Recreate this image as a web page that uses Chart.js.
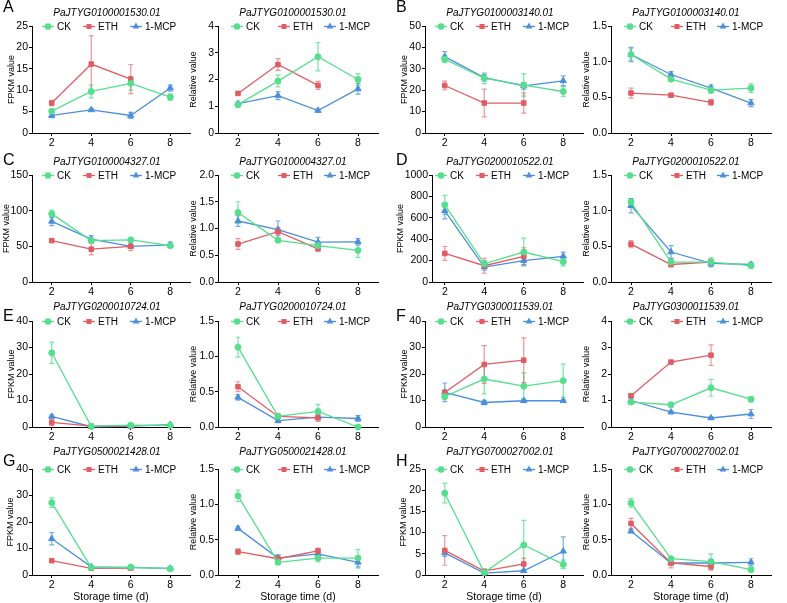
<!DOCTYPE html>
<html>
<head>
<meta charset="utf-8">
<script src="https://cdn.jsdelivr.net/npm/chart.js@4.4.0/dist/chart.umd.min.js"></script>
<style>
  body { margin: 0; background: #fff; width: 787px; height: 603px; position: relative; overflow: hidden; font-family: "Liberation Sans", Arial, sans-serif; }
  canvas { position: absolute; }
  .tag { position: absolute; font-size: 16px; line-height: 1; color: #000; }
</style>
</head>
<body>
<script>
const days = [2, 4, 6, 8];
const xTicks = ['2', '4', '6', '8'];
const seriesNames = ['CK', 'ETH', '1-MCP'];
const panelLetters = ['A', 'B', 'C', 'D', 'E', 'F', 'G', 'H'];
const genes = ['PaJTYG0100001530.01', 'PaJTYG0100003140.01', 'PaJTYG0100004327.01', 'PaJTYG0200010522.01',
               'PaJTYG0200010724.01', 'PaJTYG0300011539.01', 'PaJTYG0500021428.01', 'PaJTYG0700027002.01'];

// rows: CK, ETH, 1-MCP ; columns: day 2, 4, 6, 8
const fpkmA = [[5.1, 9.7, 11.6, 8.4], [7.0, 16.1, 12.6, null], [4.1, 5.4, 4.1, 10.5]];
const fpkmSdA = [[0.4, 1.5, 1.6, 0.7], [0.6, 6.6, 3.4, null], [0.5, 0.3, 0.7, 0.7]];
const relA = [[1.06, 1.94, 2.85, 2.0], [1.48, 2.56, 1.78, null], [1.1, 1.4, 0.84, 1.65]];
const relSdA = [[0.08, 0.22, 0.53, 0.22], [0.06, 0.22, 0.15, null], [0.05, 0.15, 0.05, 0.2]];

const fpkmB = [[34.5, 25.6, 22.4, 19.4], [22.2, 14.0, 14.0, null], [35.7, 25.9, 22.0, 24.4]];
const fpkmSdB = [[1.5, 2.5, 5.2, 2.3], [2.0, 6.5, 4.7, null], [2.3, 1.5, 1.5, 2.3]];
const relB = [[1.10, 0.755, 0.60, 0.63], [0.56, 0.53, 0.43, null], [1.10, 0.82, 0.63, 0.42]];
const relSdB = [[0.08, 0.03, 0.04, 0.06], [0.07, 0.02, 0.04, null], [0.1, 0.04, 0.04, 0.05]];

const fpkmC = [[95.5, 58, 59, 51], [58, 46, 50, null], [85, 60, 50, 52]];
const fpkmSdC = [[5, 3, 2, 2], [2, 8, 6, null], [6, 5, 3, 4]];
const relC = [[1.30, 0.78, 0.68, 0.59], [0.71, 0.94, 0.62, null], [1.14, 0.98, 0.745, 0.75]];
const relSdC = [[0.2, 0.04, 0.05, 0.13], [0.1, 0.07, 0.04, null], [0.1, 0.16, 0.09, 0.06]];

const fpkmD = [[720, 170, 280, 190], [267, 152, 240, null], [665, 140, 200, 240]];
const fpkmSdD = [[90, 30, 130, 40], [65, 70, 80, null], [75, 30, 40, 40]];
const relD = [[1.12, 0.28, 0.28, 0.23], [0.53, 0.245, 0.28, null], [1.07, 0.42, 0.26, 0.245]];
const relSdD = [[0.05, 0.05, 0.06, 0.04], [0.05, 0.03, 0.04, null], [0.1, 0.09, 0.05, 0.03]];

const fpkmE = [[28, 0.25, 0.7, 0.6], [1.75, 0.3, 0.4, null], [4.0, 0.1, 0.3, 0.9]];
const fpkmSdE = [[4, 0.1, 0.2, 0.2], [1.2, 0.1, 0.1, null], [0.6, 0.05, 0.1, 0.2]];
const relE = [[1.13, 0.15, 0.22, 0.0], [0.57, 0.15, 0.13, null], [0.42, 0.09, 0.14, 0.12]];
const relSdE = [[0.14, 0.03, 0.1, 0.01], [0.07, 0.03, 0.05, null], [0.04, 0.03, 0.03, 0.04]];

const fpkmF = [[11.5, 18.1, 15.4, 17.5], [13.0, 23.6, 25.2, null], [13.1, 9.25, 9.9, 9.9]];
const fpkmSdF = [[1, 5.6, 5, 6.2], [1, 7.1, 8.4, null], [3.5, 0.8, 0.6, 0.4]];
const relF = [[0.94, 0.84, 1.48, 1.05], [1.18, 2.45, 2.71, null], [1.0, 0.56, 0.34, 0.49]];
const relSdF = [[0.08, 0.08, 0.32, 0.1], [0.07, 0.04, 0.39, null], [0.05, 0.05, 0.04, 0.17]];

const fpkmG = [[27.3, 2.8, 3.0, 2.4], [5.4, 2.5, 2.6, null], [13.7, 3.1, 2.8, 2.5]];
const fpkmSdG = [[1.8, 0.3, 0.3, 0.3], [0.6, 0.3, 0.4, null], [2.3, 0.3, 0.3, 0.3]];
const relG = [[1.12, 0.18, 0.24, 0.24], [0.33, 0.23, 0.34, null], [0.66, 0.24, 0.30, 0.18]];
const relSdG = [[0.08, 0.03, 0.05, 0.12], [0.04, 0.05, 0.04, null], [0.03, 0.04, 0.03, 0.08]];

const fpkmH = [[19.3, 0.6, 7.1, 2.5], [5.8, 0.9, 2.6, null], [5.2, 0.45, 1.0, 5.6]];
const fpkmSdH = [[2.3, 0.3, 5.8, 1.0], [3.5, 0.3, 1.4, null], [0.8, 0.2, 0.3, 3.4]];
const relH = [[1.02, 0.23, 0.19, 0.075], [0.73, 0.17, 0.12, null], [0.62, 0.17, 0.17, 0.18]];
const relSdH = [[0.06, 0.03, 0.11, 0.03], [0.07, 0.07, 0.05, null], [0.02, 0.02, 0.05, 0.05]];

// y tick labels
const fpkmTicksA = ['0', '5', '10', '15', '20', '25'];
const relTicksA = ['0', '1', '2', '3', '4'];
const fpkmTicksB = ['0', '10', '20', '30', '40', '50'];
const relTicksB = ['0.0', '0.5', '1.0', '1.5'];
const fpkmTicksC = ['0', '50', '100', '150'];
const relTicksC = ['0.0', '0.5', '1.0', '1.5', '2.0'];
const fpkmTicksD = ['0', '200', '400', '600', '800', '1000'];
const relTicksD = ['0.0', '0.5', '1.0', '1.5'];
const fpkmTicksE = ['0', '10', '20', '30', '40'];
const relTicksE = ['0.0', '0.5', '1.0', '1.5'];
const fpkmTicksF = ['0', '10', '20', '30', '40'];
const relTicksF = ['0', '1', '2', '3', '4'];
const fpkmTicksG = ['0', '10', '20', '30', '40'];
const relTicksG = ['0.0', '0.5', '1.0', '1.5'];
const fpkmTicksH = ['0', '5', '10', '15', '20', '25'];
const relTicksH = ['0.0', '0.5', '1.0', '1.5'];

const panels = [
  [fpkmA, fpkmSdA, fpkmTicksA, relA, relSdA, relTicksA],
  [fpkmB, fpkmSdB, fpkmTicksB, relB, relSdB, relTicksB],
  [fpkmC, fpkmSdC, fpkmTicksC, relC, relSdC, relTicksC],
  [fpkmD, fpkmSdD, fpkmTicksD, relD, relSdD, relTicksD],
  [fpkmE, fpkmSdE, fpkmTicksE, relE, relSdE, relTicksE],
  [fpkmF, fpkmSdF, fpkmTicksF, relF, relSdF, relTicksF],
  [fpkmG, fpkmSdG, fpkmTicksG, relG, relSdG, relTicksG],
  [fpkmH, fpkmSdH, fpkmTicksH, relH, relSdH, relTicksH]
];

const colors = ['#55df8c', '#e15c63', '#4b8fdc'];
const barColors = ['rgba(85,223,140,0.8)', 'rgba(225,92,99,0.65)', 'rgba(75,143,220,0.75)'];
const styles = ['circle', 'rect', 'triangle'];
const radii = [3, 3.2, 3.6];
const FONT = '"Liberation Sans", Arial, sans-serif';

const plotTop = [26, 175, 321, 469];
const plotBottom = [133, 282, 427, 575];
const titleGap = [13, 12.5, 14, 16.5];
const tagTop = [-1, 152, 308, 453];
// left (FPKM) axis width and title padding per panel; wide labels push the axis right
const fpkmAxisW = [32, 32, 32, 39, 32, 32, 32, 32];
const fpkmTitlePad = [6, 6, 1, 2, 6, 6, 5, 5];

const errorBars = {
  id: 'errorBars',
  beforeDatasetsDraw(chart) {
    const ctx = chart.ctx;
    const y = chart.scales.y;
    chart.data.datasets.forEach((ds, i) => {
      const meta = chart.getDatasetMeta(i);
      ctx.save();
      ctx.strokeStyle = barColors[i];
      ctx.lineWidth = 1.2;
      ds.data.forEach((pt, j) => {
        const el = meta.data[j];
        if (!el || pt.sd == null) return;
        const top = y.getPixelForValue(pt.y + pt.sd);
        const bot = y.getPixelForValue(Math.max(pt.y - pt.sd, 0));
        ctx.beginPath();
        ctx.moveTo(el.x, top); ctx.lineTo(el.x, bot);
        ctx.moveTo(el.x - 2.5, top); ctx.lineTo(el.x + 2.5, top);
        ctx.moveTo(el.x - 2.5, bot); ctx.lineTo(el.x + 2.5, bot);
        ctx.stroke();
      });
      ctx.restore();
    });
  }
};

const panelDecor = {
  id: 'panelDecor',
  afterDraw(chart, args, opts) {
    const ctx = chart.ctx;
    const a = chart.chartArea;
    ctx.save();
    ctx.fillStyle = '#000';
    ctx.font = 'italic 10px ' + FONT;
    ctx.textAlign = 'center';
    ctx.textBaseline = 'middle';
    ctx.fillText(opts.title, opts.centerX, a.top - opts.gap);
    ctx.font = '10px ' + FONT;
    ctx.textAlign = 'left';
    const ly = a.top + 0.5;
    opts.offsets.forEach((off, i) => {
      const lx = opts.legendLeft + off;
      ctx.strokeStyle = colors[i];
      ctx.fillStyle = colors[i];
      ctx.lineWidth = 1.3;
      ctx.beginPath();
      ctx.moveTo(lx, ly); ctx.lineTo(lx + 12, ly);
      ctx.stroke();
      Chart.helpers.drawPoint(ctx, { pointStyle: styles[i], radius: 2.6, rotation: 0, borderWidth: 1 }, lx + 6, ly);
      ctx.fillStyle = '#000';
      ctx.fillText(seriesNames[i], lx + 15, ly + 0.5);
    });
    ctx.restore();
  }
};

function makeChart(c) {
  const canvas = document.createElement('canvas');
  canvas.width = c.width;
  canvas.height = c.height;
  canvas.style.left = c.left + 'px';
  canvas.style.top = c.top + 'px';
  document.body.appendChild(canvas);
  const tickVals = c.tickLabels.map(Number);
  const xVals = xTicks.map(Number);

  const datasets = seriesNames.map((name, i) => ({
    label: name,
    data: days.map((d, j) => ({ x: d, y: c.values[i][j], sd: c.sds[i][j] })).filter(p => p.y !== null),
    borderColor: colors[i],
    backgroundColor: colors[i],
    borderWidth: 1.3,
    pointStyle: styles[i],
    pointRadius: radii[i],
    pointBorderWidth: 1,
    clip: false
  }));

  const axisGrid = { display: true, drawOnChartArea: false, drawTicks: true, tickLength: 3, color: '#000', lineWidth: 1 };

  return new Chart(canvas.getContext('2d'), {
    type: 'line',
    data: { datasets },
    plugins: [errorBars, panelDecor],
    options: {
      responsive: false,
      animation: false,
      devicePixelRatio: 1,
      layout: { padding: { top: 26, left: 0, right: c.padRight, bottom: 0 } },
      plugins: {
        legend: { display: false },
        tooltip: { enabled: false },
        panelDecor: { title: c.title, gap: c.gap, offsets: c.offsets, centerX: c.centerX, legendLeft: c.legendLeft }
      },
      scales: {
        x: {
          type: 'linear',
          min: c.xMin,
          max: 9,
          afterBuildTicks: s => { s.ticks = xVals.map(v => ({ value: v })); },
          afterFit: s => { s.height = c.xH; },
          grid: axisGrid,
          border: { display: true, color: '#000', width: 1 },
          ticks: { padding: 1, color: '#000', font: { family: FONT, size: 10.5 }, maxRotation: 0, autoSkip: false,
                   callback: (v, i) => xTicks[i] },
          title: { display: c.showXTitle, text: 'Storage time (d)', color: '#000', font: { family: FONT, size: 10.5 }, padding: 0 }
        },
        y: {
          min: tickVals[0],
          max: tickVals[tickVals.length - 1],
          afterBuildTicks: s => { s.ticks = tickVals.map(v => ({ value: v })); },
          afterFit: s => { s.width = c.yW; },
          grid: axisGrid,
          border: { display: true, color: '#000', width: 1 },
          ticks: { padding: 1, color: '#000', font: { family: FONT, size: 10.5 }, autoSkip: false,
                   callback: (v, i) => c.tickLabels[i] },
          title: { display: true, text: c.yTitle, color: '#000', font: { family: FONT, size: 9 }, padding: { top: c.yTitlePad, bottom: 0 } }
        }
      }
    }
  });
}

panels.forEach((p, k) => {
  const r = Math.floor(k / 2);
  const x0 = (k % 2) * 393;
  const xH = r < 3 ? 16 : 28;
  const top = plotTop[r] - 26;
  const height = plotBottom[r] + xH - top;
  const yW = fpkmAxisW[k];
  makeChart({ left: x0, top, width: 195, height, yW, padRight: 3, xH, xMin: 1 + (yW - 32) / 20,
              values: p[0], sds: p[1], tickLabels: p[2], yTitle: 'FPKM value', yTitlePad: fpkmTitlePad[k],
              title: genes[k], gap: titleGap[r], centerX: 107, legendLeft: 32, offsets: [10, 51, 98], showXTitle: r === 3 });
  makeChart({ left: x0 + 188, top, width: 205, height, yW: 30, padRight: 15, xH, xMin: 1,
              values: p[3], sds: p[4], tickLabels: p[5], yTitle: 'Relative value', yTitlePad: 0,
              title: genes[k], gap: titleGap[r], centerX: 105, legendLeft: 30, offsets: [13, 60, 106], showXTitle: r === 3 });

  const tag = document.createElement('div');
  tag.className = 'tag';
  tag.textContent = panelLetters[k];
  tag.style.left = (x0 + 3) + 'px';
  tag.style.top = tagTop[r] + 'px';
  document.body.appendChild(tag);
});
</script>
</body>
</html>
